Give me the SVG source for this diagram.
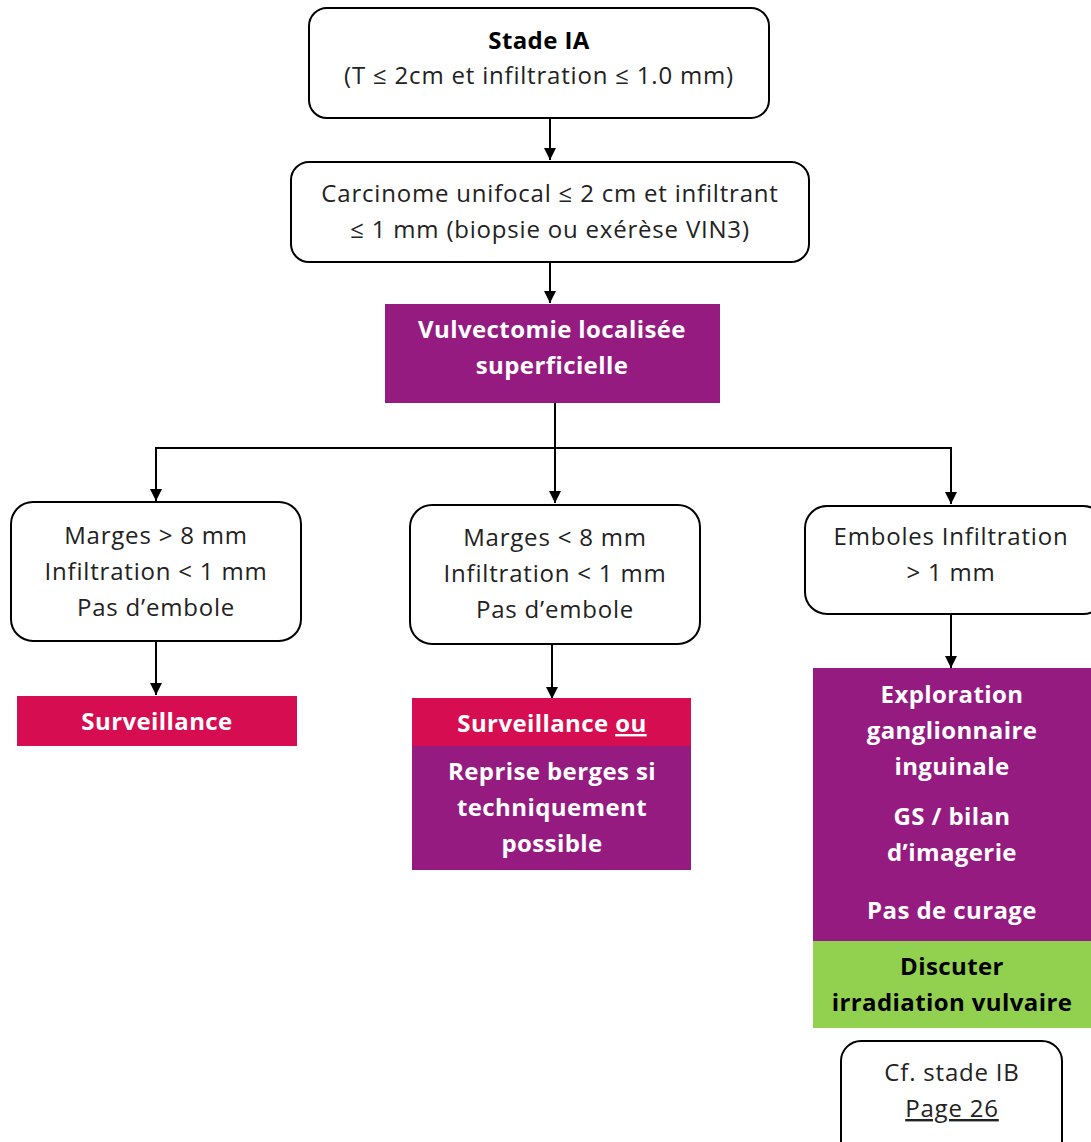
<svg xmlns="http://www.w3.org/2000/svg" width="1091" height="1142" viewBox="0 0 1091 1142">
  <defs>
    <marker id="arrow" viewBox="0 0 12 12" refX="12" refY="6" markerWidth="12" markerHeight="12" markerUnits="userSpaceOnUse" orient="auto">
      <path d="M0,0 L12,6 L0,12 Z" fill="#000"/>
    </marker>
    <style>
      .box { fill: #fff; stroke: #000; stroke-width: 2; }
      .purple { fill: #951B81; }
      .red { fill: #D60D51; }
      .green { fill: #92D050; }
      text { font-family: "Open Sans", "Noto Sans", sans-serif; text-anchor: middle; }
      .t { font-size: 24px; fill: #222; letter-spacing: 0.8px; }
      .b { font-size: 24px; font-weight: bold; letter-spacing: 0.4px; }
      .w { fill: #fff; }
      .k { fill: #000; }
      .edge { stroke: #000; stroke-width: 2; fill: none; }
      .arr { marker-end: url(#arrow); }
    </style>
  </defs>

  <rect width="1091" height="1142" fill="#fff"/>

  <!-- connectors -->
  <g id="connectors">
    <line class="edge arr" x1="550" y1="118" x2="550" y2="160"/>
    <line class="edge arr" x1="550" y1="262" x2="550" y2="303"/>
    <line class="edge" x1="555" y1="403" x2="555" y2="448"/>
    <line class="edge" x1="155" y1="448" x2="952" y2="448"/>
    <line class="edge arr" x1="156" y1="448" x2="156" y2="501"/>
    <line class="edge arr" x1="555" y1="448" x2="555" y2="503"/>
    <line class="edge arr" x1="951" y1="448" x2="951" y2="504"/>
    <line class="edge arr" x1="156" y1="641" x2="156" y2="695"/>
    <line class="edge arr" x1="552" y1="644" x2="552" y2="699"/>
    <line class="edge arr" x1="951" y1="614" x2="951" y2="668"/>
  </g>

  <g id="stade-ia">
    <rect class="box" x="309" y="8" width="460" height="110" rx="18"/>
    <text class="b k" x="539" y="49">Stade IA</text>
    <text class="t" x="539" y="84">(T ≤ 2cm et infiltration ≤ 1.0 mm)</text>
  </g>

  <g id="carcinome">
    <rect class="box" x="291" y="162" width="518" height="100" rx="18"/>
    <text class="t" x="550" y="202">Carcinome unifocal ≤ 2 cm et infiltrant</text>
    <text class="t" x="550" y="238">≤ 1 mm (biopsie ou exérèse VIN3)</text>
  </g>

  <g id="vulvectomie">
    <rect class="purple" x="385" y="304" width="335" height="99"/>
    <text class="b w" x="552" y="338">Vulvectomie localisée</text>
    <text class="b w" x="552" y="374">superficielle</text>
  </g>

  <g id="marges-sup">
    <rect class="box" x="11" y="502" width="290" height="139" rx="22"/>
    <text class="t" x="156" y="544">Marges &gt; 8 mm</text>
    <text class="t" x="156" y="580">Infiltration &lt; 1 mm</text>
    <text class="t" x="156" y="616">Pas d’embole</text>
  </g>

  <g id="marges-inf">
    <rect class="box" x="410" y="505" width="290" height="139" rx="22"/>
    <text class="t" x="555" y="546">Marges &lt; 8 mm</text>
    <text class="t" x="555" y="582">Infiltration &lt; 1 mm</text>
    <text class="t" x="555" y="618">Pas d’embole</text>
  </g>

  <g id="emboles">
    <rect class="box" x="805" y="506" width="300" height="108" rx="22"/>
    <text class="t" x="951" y="545">Emboles Infiltration</text>
    <text class="t" x="951" y="581">&gt; 1 mm</text>
  </g>

  <g id="surveillance">
    <rect class="red" x="17" y="696" width="280" height="50"/>
    <text class="b w" x="157" y="730">Surveillance</text>
  </g>

  <g id="surveillance-reprise">
    <rect class="red" x="412" y="698" width="279" height="48"/>
    <rect class="purple" x="412" y="746" width="279" height="124"/>
    <text class="b w" x="552" y="732">Surveillance <tspan text-decoration="underline">ou</tspan></text>
    <text class="b w" x="552" y="780">Reprise berges si</text>
    <text class="b w" x="552" y="816">techniquement</text>
    <text class="b w" x="552" y="852">possible</text>
  </g>

  <g id="exploration">
    <rect class="purple" x="813" y="668" width="278" height="273"/>
    <rect class="green" x="813" y="941" width="278" height="87"/>
    <text class="b w" x="952" y="703">Exploration</text>
    <text class="b w" x="952" y="739">ganglionnaire</text>
    <text class="b w" x="952" y="775">inguinale</text>
    <text class="b w" x="952" y="825">GS / bilan</text>
    <text class="b w" x="952" y="861">d’imagerie</text>
    <text class="b w" x="952" y="919">Pas de curage</text>
    <text class="b k" x="952" y="975">Discuter</text>
    <text class="b k" x="952" y="1011">irradiation vulvaire</text>
  </g>

  <g id="cf-stade-ib">
    <rect class="box" x="841" y="1041" width="221" height="120" rx="20"/>
    <text class="t" x="952" y="1081">Cf. stade IB</text>
    <text class="t" x="952" y="1117" text-decoration="underline">Page 26</text>
  </g>
</svg>
